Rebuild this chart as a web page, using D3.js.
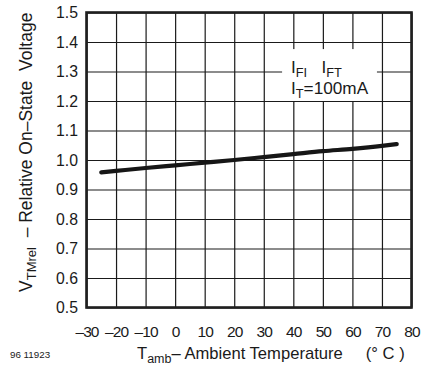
<!DOCTYPE html>
<html>
<head>
<meta charset="utf-8">
<script src="https://cdn.jsdelivr.net/npm/d3@7"></script>
<style>
  html, body { margin: 0; padding: 0; background: #fff; }
  svg { display: block; font-family: "Liberation Sans", Arial, Helvetica, sans-serif; }
  .tick text { fill: #1a1a1a; }
</style>
</head>
<body>
<svg id="chart" width="421" height="369"></svg>
<script>
// Temperature axis (°C) and relative on-state voltage axis
const tempTicks = [-30, -20, -10, 0, 10, 20, 30, 40, 50, 60, 70, 80];
const voltTicks = [0.5, 0.6, 0.7, 0.8, 0.9, 1.0, 1.1, 1.2, 1.3, 1.4, 1.5];

// Curve: V_TMrel vs T_amb at I_T = 100 mA
const curveTemp = [-25, -20, -10, 0, 10, 20, 30, 40, 50, 60, 70, 75];
const curveVolt = [0.958, 0.963, 0.973, 0.982, 0.991, 1.000, 1.010, 1.020, 1.030, 1.038, 1.048, 1.054];

const svg = d3.select("#chart");
const plotLeft = 86.5, plotRight = 411.5, plotTop = 12.5, plotBottom = 307.5;
const w = plotRight - plotLeft, h = plotBottom - plotTop;

const x = d3.scaleLinear().domain([-30, 80]).range([0, w]);
const y = d3.scaleLinear().domain([0.5, 1.5]).range([h, 0]);

const g = svg.append("g").attr("transform", `translate(${plotLeft},${plotTop})`);

const dash = d => d < 0 ? "\u2013" + (-d) : String(d);

// Horizontal grid + value labels
const yAxis = g.append("g")
  .call(d3.axisLeft(y).tickValues(voltTicks).tickFormat(d3.format(".1f"))
    .tickSize(-w).tickPadding(8.5));
yAxis.select(".domain").remove();
yAxis.selectAll(".tick line").attr("stroke", "#1a1a1a").attr("stroke-width", 1.2);
yAxis.selectAll(".tick text").attr("font-size", 15.8).attr("font-family", "Liberation Sans, Arial, sans-serif");

// Vertical grid + temperature labels
const xAxis = g.append("g").attr("transform", `translate(0,${h})`)
  .call(d3.axisBottom(x).tickValues(tempTicks).tickFormat(dash)
    .tickSize(-h).tickPadding(18.5));
xAxis.select(".domain").remove();
xAxis.selectAll(".tick line").attr("stroke", "#1a1a1a").attr("stroke-width", 1.2);
xAxis.selectAll(".tick text").attr("font-size", 15.5).attr("letter-spacing", -0.9)
  .attr("font-family", "Liberation Sans, Arial, sans-serif");

// White panel behind the condition text
g.append("rect")
  .attr("x", x(36.2)).attr("y", y(1.376))
  .attr("width", x(68.3) - x(36.2)).attr("height", y(1.2) - y(1.376))
  .attr("fill", "#fff");

// Frame
g.append("rect").attr("x", 0).attr("y", 0).attr("width", w).attr("height", h)
  .attr("fill", "none").attr("stroke", "#1f1f1f").attr("stroke-width", 2.6);

// Curve
const pts = curveTemp.map((t, i) => [t, curveVolt[i]]);
g.append("path")
  .datum(pts)
  .attr("fill", "none")
  .attr("stroke", "#161616")
  .attr("stroke-width", 4.2)
  .attr("stroke-linecap", "round")
  .attr("d", d3.line().x(d => x(d[0])).y(d => y(d[1])).curve(d3.curveMonotoneX));

// Condition text
const cond = svg.append("text").attr("x", 291).attr("y", 73)
  .attr("font-size", 17.2).attr("fill", "#1a1a1a").style("white-space", "pre");
cond.append("tspan").text("I");
cond.append("tspan").attr("font-size", 12.8).attr("dy", 3.5).text("FI");
cond.append("tspan").attr("dy", -3.5).text("   I");
cond.append("tspan").attr("font-size", 12.8).attr("dy", 3.5).text("FT");
const cond2 = svg.append("text").attr("x", 291).attr("y", 94)
  .attr("font-size", 17.2).attr("fill", "#1a1a1a");
cond2.append("tspan").text("I");
cond2.append("tspan").attr("font-size", 12.8).attr("dy", 3.5).text("T");
cond2.append("tspan").attr("dy", -3.5).text("=100mA");

// X title
const xt = svg.append("text").attr("x", 137).attr("y", 359)
  .attr("font-size", 16.6).attr("fill", "#1a1a1a")
  .style("white-space", "pre");
xt.append("tspan").text("T");
xt.append("tspan").attr("font-size", 12.5).attr("dy", 3.5).text("amb");
xt.append("tspan").attr("dy", -3.5).text("\u2013 Ambient Temperature     (\u00b0 C )");

// Y title
const yt = svg.append("text")
  .attr("transform", "translate(32,292) rotate(-90)")
  .attr("font-size", 17.5).attr("fill", "#1a1a1a")
  .style("white-space", "pre");
yt.append("tspan").text("V");
yt.append("tspan").attr("font-size", 13).attr("dy", 3.5).text("TMrel");
yt.append("tspan").attr("dy", -3.5).text("  \u2013 Relative On\u2013State  Voltage");

// Figure number
svg.append("text").attr("x", 10).attr("y", 358).attr("font-size", 9.8)
  .attr("fill", "#1a1a1a").text("96 11923");
</script>
</body>
</html>
